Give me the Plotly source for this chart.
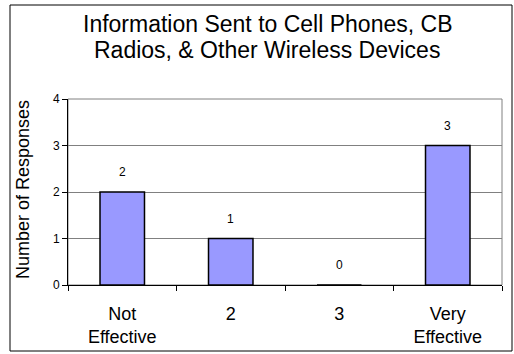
import plotly.graph_objects as go

# Survey results: perceived effectiveness of information sent to wireless devices
categories = ["Not<br>Effective", "2", "3", "Very<br>Effective"]
responses = [2, 1, 0, 3]
y_ticks = [0, 1, 2, 3, 4]
title_lines = ["Information Sent to Cell Phones, CB", "Radios, & Other Wireless Devices"]

FONT = "Liberation Sans, Arial, sans-serif"

W, H = 514, 354
L, R, T, B = 68, 12, 99, 69
pw, ph = W - L - R, H - T - B


def px_x(x):
    return (x - L) / pw


def px_y(y):
    return (H - B - y) / ph


fig = go.Figure()
fig.add_trace(go.Bar(
    x=categories,
    y=responses,
    marker=dict(color="#9999FF", line=dict(color="#000000", width=1.5)),
    hoverinfo="skip",
))

# value labels above each bar (positioned by category index)
for i, v in enumerate(responses):
    fig.add_annotation(
        x=i, y=v, text=str(v), showarrow=False, yshift=20,
        font=dict(family=FONT, size=12, color="#000000"),
        xanchor="center", yanchor="middle",
    )

# two-line chart title with tight line spacing
for line, yc in zip(title_lines, [24, 50]):
    fig.add_annotation(
        xref="paper", yref="paper", x=px_x(267), y=px_y(yc),
        text=line, showarrow=False,
        font=dict(family=FONT, size=23, color="#000000"),
        xanchor="center", yanchor="middle",
    )

# y-axis title
fig.add_annotation(
    xref="paper", yref="paper", x=px_x(23), y=px_y(190),
    text="Number of Responses", textangle=-90, showarrow=False,
    font=dict(family=FONT, size=18, color="#000000"),
    xanchor="center", yanchor="middle",
)

# plot area border (gray) and outer chart border (black)
fig.add_shape(type="rect", xref="paper", yref="paper", x0=0, x1=1, y0=0, y1=1,
              line=dict(color="#808080", width=1), layer="below")
fig.add_shape(type="rect", xref="paper", yref="paper",
              x0=px_x(10), x1=px_x(512), y0=px_y(351), y1=px_y(5),
              line=dict(color="#000000", width=1))

fig.update_layout(
    width=W, height=H,
    margin=dict(l=L, r=R, t=T, b=B, autoexpand=False),
    paper_bgcolor="#FFFFFF", plot_bgcolor="#FFFFFF",
    showlegend=False,
    bargap=0.59,
    xaxis=dict(
        type="category",
        showgrid=False,
        showline=True, linecolor="#000000", linewidth=1,
        ticks="outside", tickson="boundaries", ticklen=5, tickcolor="#000000",
        tickfont=dict(family=FONT, size=18, color="#000000"),
        ticklabelstandoff=12,
        automargin=False,
        fixedrange=True,
    ),
    yaxis=dict(
        range=[0, 4],
        tickvals=y_ticks,
        showgrid=True, gridcolor="#808080", gridwidth=1,
        showline=True, linecolor="#000000", linewidth=1,
        ticks="outside", ticklen=5, tickcolor="#000000",
        tickfont=dict(family=FONT, size=12, color="#000000"),
        zeroline=False,
        automargin=False,
        fixedrange=True,
    ),
)

fig.write_html("out.html")
